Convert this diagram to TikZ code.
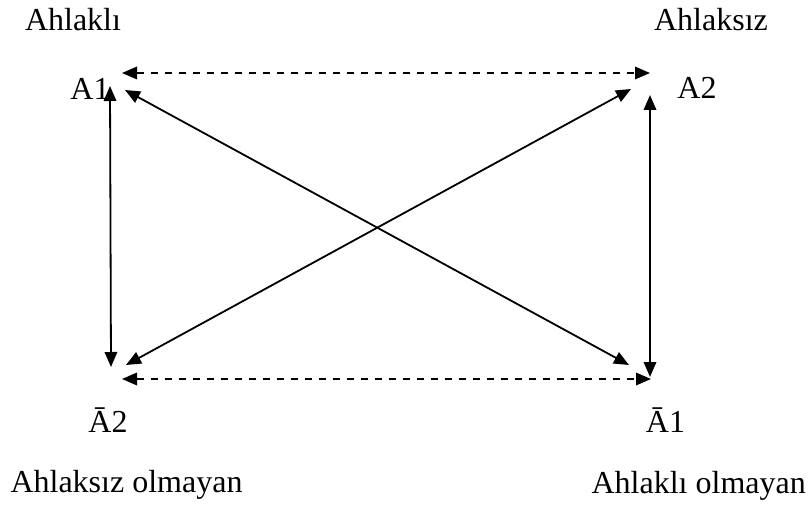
\documentclass[tikz,border=0pt]{standalone}
\usepackage{fontspec}
\setmainfont{Liberation Serif}
\usetikzlibrary{arrows.meta}
\begin{document}
\begin{tikzpicture}[x=1pt,y=-1pt,
  lbl/.style={anchor=base,inner sep=0pt,font=\fontsize{32}{38}\selectfont},
  conn/.style={line width=1.8pt,{Triangle[length=15pt,width=12.5pt]}-{Triangle[length=15pt,width=12.5pt]}},
  dconn/.style={conn,dash pattern=on 7.5pt off 6.5pt}]
\useasboundingbox (0,0) rectangle (810,513);
% labels
\node[lbl] (ahlakli) at (73,31) {Ahlaklı};
\node[lbl] (ahlaksiz) at (711,31) {Ahlaksız};
\node[lbl] (a1) at (90,100) {A1};
\node[lbl] (a2) at (697,99) {A2};
\node[lbl] (na2) at (108,432) {Ā2};
\node[lbl] (na1) at (665.5,432) {Ā1};
\node[lbl] (ahlaksizol) at (126.5,492) {Ahlaksız olmayan};
\node[lbl,anchor=base east] (ahlakliol) at (806,493) {Ahlaklı olmayan};
% connector ends
\coordinate (tl) at (122,73);
\coordinate (tr) at (650,73);
\coordinate (bl) at (122,379);
\coordinate (br) at (651,379);
\coordinate (lt) at (110,86);
\coordinate (lb) at (111,367);
\coordinate (rt) at (650,95);
\coordinate (rb) at (650,377);
\coordinate (d1a) at (125,90);
\coordinate (d1b) at (629,365);
\coordinate (d2a) at (631,89);
\coordinate (d2b) at (126,365);
% connectors
\draw[dconn] (tl) -- (tr);
\draw[dconn] (bl) -- (br);
\draw[conn] (lt) -- (lb);
\draw[conn] (rt) -- (rb);
\draw[conn] (d1a) -- (d1b);
\draw[conn] (d2a) -- (d2b);
\end{tikzpicture}
\end{document}
